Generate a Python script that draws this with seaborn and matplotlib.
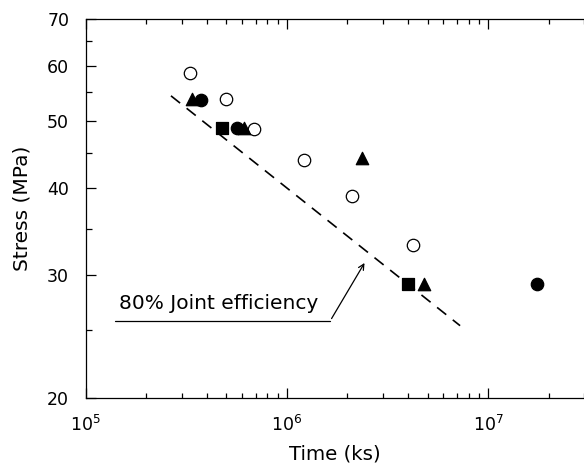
import numpy as np
import pandas as pd
import matplotlib
matplotlib.use("Agg")
import matplotlib.pyplot as plt
from matplotlib.ticker import FixedLocator, NullFormatter, LogLocator
import seaborn as sns

# data (time in ks, stress in MPa)
open_circle_time = [3.29e5, 4.98e5, 6.85e5, 1.22e6, 2.10e6, 4.24e6]
open_circle_stress = [58.5, 53.7, 48.6, 43.9, 39.0, 33.2]

filled_circle_time = [3.73e5, 5.64e5, 1.75e7]
filled_circle_stress = [53.5, 48.8, 29.2]

triangle_time = [3.37e5, 6.11e5, 2.36e6, 4.81e6]
triangle_stress = [53.7, 48.8, 44.2, 29.2]

square_time = [4.75e5, 4.0e6]
square_stress = [48.8, 29.2]

# 80% joint efficiency line
eff_time = [2.65e5, 7.26e6]
eff_stress = [54.3, 25.4]

y_major = [20, 30, 40, 50, 60, 70]
y_minor = [25, 35, 45, 55, 65]

sns.set_style("ticks")
plt.rcParams['font.family'] = ['DejaVu Sans']
plt.rcParams['mathtext.fontset'] = 'dejavusans'
plt.rcParams['text.color'] = 'black'
plt.rcParams['axes.labelcolor'] = 'black'
plt.rcParams['xtick.color'] = 'black'
plt.rcParams['ytick.color'] = 'black'

fig = plt.figure(figsize=(5.84, 4.68), dpi=100)
ax = fig.add_axes([0.147, 0.1496, 0.853, 0.8098])

sns.lineplot(x=eff_time, y=eff_stress, ax=ax, color='black', lw=1.2,
             linestyle=(0, (7, 5)))

mk = dict(ax=ax, s=80, edgecolor='black', linewidth=0.9, zorder=3)
sns.scatterplot(x=open_circle_time, y=open_circle_stress, marker='o',
                color='white', **mk)
sns.scatterplot(x=filled_circle_time, y=filled_circle_stress, marker='o',
                color='black', **mk)
sns.scatterplot(x=triangle_time, y=triangle_stress, marker='^',
                color='black', **mk)
sns.scatterplot(x=square_time, y=square_stress, marker='s',
                color='black', **mk)

ax.set_xscale('log')
ax.set_yscale('log')
ax.set_xlim(1e5, 3.0e7)
ax.set_ylim(20, 70)

ax.yaxis.set_major_locator(FixedLocator(y_major))
ax.yaxis.set_minor_locator(FixedLocator(y_minor))
ax.set_yticklabels([str(v) for v in y_major])
ax.yaxis.set_minor_formatter(NullFormatter())

ax.xaxis.set_major_locator(FixedLocator([1e5, 1e6, 1e7]))
ax.xaxis.set_minor_locator(LogLocator(base=10, subs=np.arange(2, 10)))
ax.set_xticklabels([r'$10^5$', r'$10^6$', r'$10^7$'])
ax.xaxis.set_minor_formatter(NullFormatter())

ax.tick_params(which='both', direction='in', top=True, right=False,
               labelsize=12.5, color='black', labelcolor='black', width=0.9)
ax.tick_params(axis='y', which='major', length=7, pad=12)
ax.tick_params(axis='y', which='minor', length=4)
ax.tick_params(axis='x', which='major', length=7, pad=12)
ax.tick_params(axis='x', which='minor', length=3.5)

for side in ['left', 'bottom', 'top']:
    ax.spines[side].set_linewidth(0.9)
    ax.spines[side].set_color('black')
ax.spines['right'].set_visible(False)

ax.set_xlabel('Time (ks)', fontsize=14.2, labelpad=7, color='black')
ax.set_ylabel('Stress (MPa)', fontsize=14.5, labelpad=11, color='black')

# label with arrow
ax.annotate('', xy=(2.47e6, 31.5), xytext=(1.64e6, 25.8),
            arrowprops=dict(arrowstyle='->', color='black', lw=0.9))
ax.plot([1.40e5, 1.64e6], [25.8, 25.8], color='black', lw=0.9)
ax.text(1.46e5, 26.5, '80% Joint efficiency', fontsize=14.5, va='bottom',
        color='black')

fig.savefig('out.png', dpi=100)
